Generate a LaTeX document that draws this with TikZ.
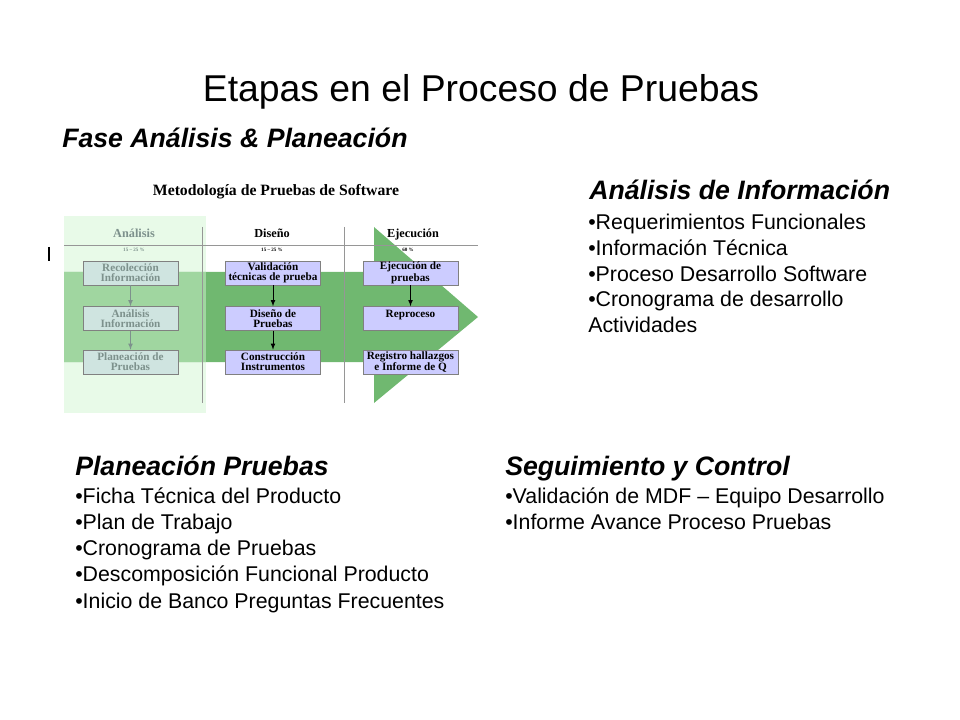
\documentclass[tikz,border=0pt]{standalone}
\usepackage{fontspec}
\setmainfont{Liberation Sans}
\newfontfamily\serifpic{Liberation Serif}
\usepackage{tikz}
\definecolor{palegreen}{RGB}{232,250,232}
\definecolor{bandgreen}{RGB}{112,184,112}
\definecolor{lightband}{RGB}{160,214,160}
\definecolor{lavbox}{RGB}{204,204,255}
\definecolor{fadebox}{RGB}{207,228,224}
\definecolor{fadetext}{RGB}{125,145,140}
\definecolor{rulegray}{RGB}{150,150,150}

\begin{document}
\begin{tikzpicture}[x=0.75pt,y=-0.75pt]
                    \tikzstyle{heading}=[anchor=base west,inner sep=0pt,font=\fontsize{20}{24}\selectfont\bfseries\itshape]
                    \tikzstyle{bullet}=[anchor=base west,inner sep=0pt,font=\fontsize{16}{19}\selectfont]
                    \tikzstyle{stepbox}=[draw=gray,fill=lavbox,minimum width=71.25pt,minimum height=18pt,inner sep=0pt,align=center,font=\serifpic\fontsize{8.4}{7.5}\selectfont\bfseries]
                    \tikzstyle{fadebox}=[stepbox,fill=fadebox,text=fadetext]
                    \tikzstyle{colhead}=[anchor=base,inner sep=0pt,font=\serifpic\fontsize{9.2}{10}\selectfont\bfseries]
                    \tikzstyle{pct}=[anchor=base,inner sep=0pt,font=\serifpic\fontsize{3.8}{4}\selectfont\bfseries]
                    \useasboundingbox (0,0) rectangle (960,720);
                    \node[anchor=base,inner sep=0pt,font=\fontsize{28}{34}\selectfont] (title) at (481,102) {Etapas en el Proceso de Pruebas};
                    \node[heading] (fase) at (62,148) {Fase Análisis \& Planeación};
                    \fill[palegreen] (64,216) rectangle (206,413);
                    \fill[bandgreen] (64,272) -- (374,272) -- (374,227) -- (478,317)
                    -- (374,403) -- (374,362) -- (64,362) -- cycle;
                    \fill[lightband] (64,272) rectangle (206,362);
                    \draw[rulegray] (64,245) -- (478,245);
                    \draw[rulegray] (202,227) -- (202,403);
                    \draw[rulegray] (344,227) -- (344,403);
                    \draw[line width=1.5pt] (49,247) -- (49,261);
                    \node[anchor=base,inner sep=0pt,font=\serifpic\fontsize{11.8}{14}\selectfont\bfseries] (metod) at (276,196) {Metodología de Pruebas de Software};
                    \node[colhead,text=fadetext] (hanal) at (134,238) {Análisis};
                    \node[colhead] (hdis) at (272,238) {Diseño};
                    \node[colhead] (heje) at (413,238) {Ejecución};
                    \node[pct,text=fadetext] (panal) at (134,252) {15 – 25 \%};
                    \node[pct] (pdis) at (272,252) {15 – 25 \%};
                    \node[pct] (peje) at (408,252) {60 \%};
                    \node[fadebox] (rec) at (130.5,273) {Recolección\\Información};
                    \node[fadebox] (ana) at (130.5,318.5) {Análisis\\Información};
                    \node[fadebox] (pla) at (130.5,362) {Planeación de\\Pruebas};
                    \node[stepbox] (val) at (273,273) {Validación\\técnicas de prueba};
                    \node[stepbox] (dis) at (273,318.5) {Diseño de\\Pruebas};
                    \node[stepbox] (con) at (273,362) {Construcción\\Instrumentos};
                    \node[stepbox] (eje) at (410.5,273) {Ejecución de\\pruebas};
                    \node[stepbox] (rep) at (410.5,318.5) {Reproceso\\~};
                    \node[stepbox] (reg) at (410.5,362) {Registro hallazgos\\e Informe de Q};
                    \draw[-latex,fadetext,line width=0.6pt] (rec) -- (ana);
                    \draw[-latex,fadetext,line width=0.6pt] (ana) -- (pla);
                    \draw[-latex,line width=0.6pt] (val) -- (dis);
                    \draw[-latex,line width=0.6pt] (dis) -- (con);
                    \draw[-latex,line width=0.6pt] (eje) -- (rep);
                    \node[heading] (info) at (589,200) {Análisis de Información};
                    \foreach \txt [count=\i] in {•Requerimientos Funcionales,•Información Técnica,•Proceso Desarrollo Software,•Cronograma de desarrollo,Actividades}
                    \node[bullet] (info\i) at (588,{204.4+25.6*\i}) {\txt};
                    \node[heading] (plan) at (75,475) {Planeación Pruebas};
                    \foreach \txt [count=\i] in {•Ficha Técnica del Producto,•Plan de Trabajo,•Cronograma de Pruebas,•Descomposición Funcional Producto,•Inicio de Banco Preguntas Frecuentes}
                    \node[bullet] (plan\i) at (75,{477+26.2*\i}) {\txt};
                    \node[heading] (seg) at (505,475) {Seguimiento y Control};
                    \foreach \txt [count=\i] in {•Validación de MDF – Equipo Desarrollo,•Informe Avance Proceso Pruebas}
                    \node[bullet] (seg\i) at (505,{477+26.2*\i}) {\txt};
                \end{tikzpicture}
\end{document}
